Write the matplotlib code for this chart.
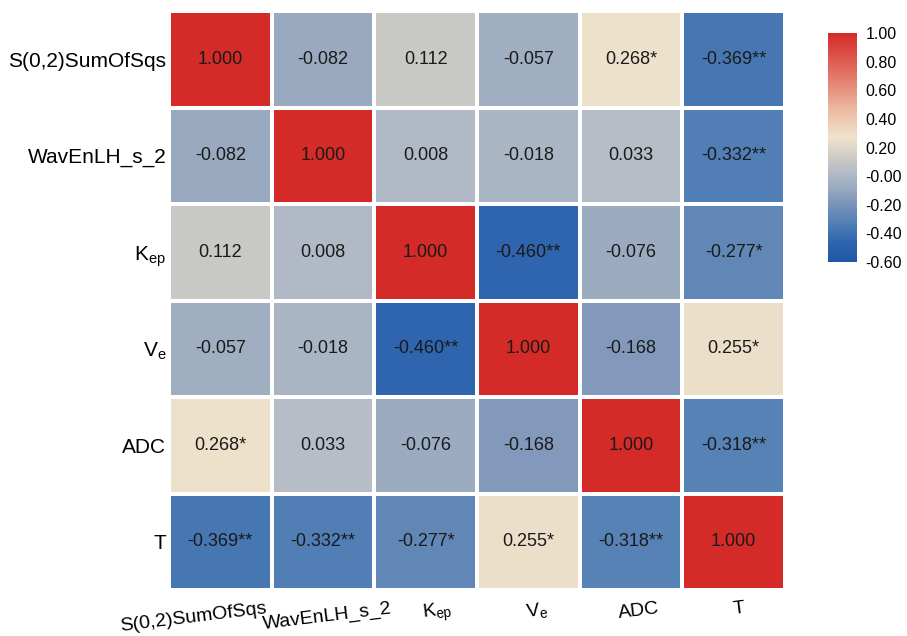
import numpy as np
import matplotlib
matplotlib.use("Agg")
import matplotlib.pyplot as plt
from matplotlib.colors import LinearSegmentedColormap, Normalize
from matplotlib.transforms import ScaledTranslation

plt.rcParams['font.family'] = ['Liberation Sans', 'DejaVu Sans']
plt.rcParams['mathtext.fontset'] = 'custom'
plt.rcParams['mathtext.rm'] = 'Liberation Sans'
plt.rcParams['mathtext.it'] = 'Liberation Sans'

labels = ["S(0,2)SumOfSqs", "WavEnLH_s_2", r"K$_{\mathregular{ep}}$", r"V$_{\mathregular{e}}$", "ADC", "T"]

corr = np.array([
    [1.000, -0.082, 0.112, -0.057, 0.268, -0.369],
    [-0.082, 1.000, 0.008, -0.018, 0.033, -0.332],
    [0.112, 0.008, 1.000, -0.460, -0.076, -0.277],
    [-0.057, -0.018, -0.460, 1.000, -0.168, 0.255],
    [0.268, 0.033, -0.076, -0.168, 1.000, -0.318],
    [-0.369, -0.332, -0.277, 0.255, -0.318, 1.000],
])
stars = [
    ["", "", "", "", "*", "**"],
    ["", "", "", "", "", "**"],
    ["", "", "", "**", "", "*"],
    ["", "", "**", "", "", "*"],
    ["*", "", "", "", "", "**"],
    ["**", "**", "*", "*", "**", ""],
]

cbar_ticks = [1.0, 0.8, 0.6, 0.4, 0.2, 0.0, -0.2, -0.4, -0.6]
cbar_ticklabels = ["1.00", "0.80", "0.60", "0.40", "0.20", "-0.00", "-0.20", "-0.40", "-0.60"]

# layout: horizontal nudges (pixels) of x tick labels
xlabel_nudge_px = [-27, 4, 12, 8, 8, 5]

vmin, vmax = -0.6, 1.0
nodes = [
    (-0.60, (34, 86, 166)),
    (-0.46, (46, 101, 174)),
    (-0.33, (83, 128, 181)),
    (-0.20, (120, 146, 186)),
    (-0.08, (155, 171, 192)),
    (0.03, (181, 188, 198)),
    (0.11, (200, 200, 196)),
    (0.27, (239, 226, 203)),
    (0.45, (236, 190, 165)),
    (0.70, (226, 120, 105)),
    (1.00, (213, 43, 40)),
]
cmap = LinearSegmentedColormap.from_list(
    "custom", [((v - vmin) / (vmax - vmin), tuple(c / 255 for c in col)) for v, col in nodes])
norm = Normalize(vmin=vmin, vmax=vmax)

fig = plt.figure(figsize=(9.07, 6.36), dpi=100)
ax = fig.add_axes([169/907, 1 - 590/636, (785-169)/907, (590-11)/636])
n = len(labels)
mesh = ax.pcolormesh(np.arange(n + 1), np.arange(n + 1), corr, cmap=cmap, norm=norm,
                     edgecolors='white', linewidth=1.5)
ax.set_xlim(0, n)
ax.set_ylim(n, 0)
for i in range(n):
    for j in range(n):
        ax.text(j + 0.5, i + 0.5, f"{corr[i, j]:.3f}{stars[i][j]}", ha='center', va='center',
                fontsize=13, color='#1a1a1a')
ax.set_xticks(np.arange(n) + 0.5)
ax.set_yticks(np.arange(n) + 0.5)
ax.set_yticklabels(labels, fontsize=15)
ax.set_xticklabels(labels, fontsize=14, rotation=7, ha='center')
ax.tick_params(length=0, pad=2)
ax.tick_params(axis='x', pad=7)
for s in ax.spines.values():
    s.set_visible(False)
for lab, dx in zip(ax.get_xticklabels(), xlabel_nudge_px):
    lab.set_transform(lab.get_transform() + ScaledTranslation(dx / 100, 0, fig.dpi_scale_trans))

cax = fig.add_axes([828/907, 1 - 262/636, 29/907, 229/636])
cb = fig.colorbar(mesh, cax=cax)
cb.set_ticks(cbar_ticks)
cb.set_ticklabels(cbar_ticklabels)
cb.outline.set_visible(False)
cax.tick_params(length=0, pad=6, labelsize=11.5)

fig.savefig("out.png", dpi=100)
